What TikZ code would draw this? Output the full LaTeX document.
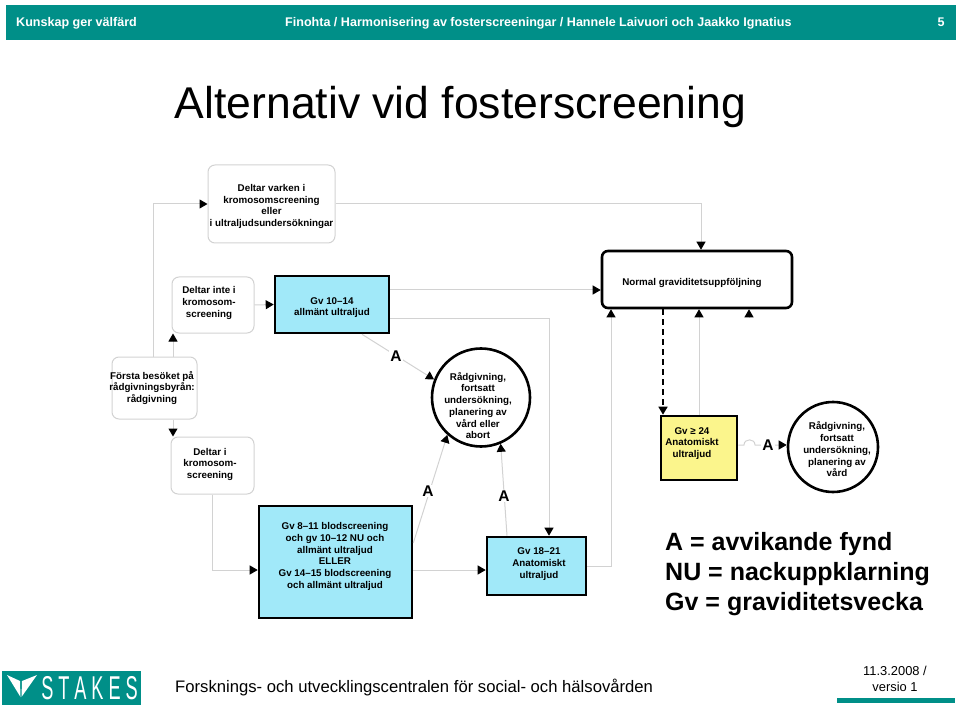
\documentclass[tikz,border=0pt]{standalone}
\usepackage{fontspec}
\usepackage{graphicx}
\setmainfont{Liberation Sans}
\usetikzlibrary{arrows.meta}
\definecolor{teal1}{HTML}{008F88}
\definecolor{blue1}{HTML}{A1E9F9}
\definecolor{yellow1}{HTML}{FBF58C}
\definecolor{line1}{HTML}{D2D2D2}
\newcommand{\Off}[3]{\raisebox{\dimexpr-4.1pt-(#2pt)\relax}[0pt][0pt]{\makebox[0pt][l]{\kern#1pt\makebox[0pt]{\begin{tabular}{@{}c@{}}#3\end{tabular}}}}}
\begin{document}
\begin{tikzpicture}
            [x=1pt,y=-1pt,
            Txt/.style={font=\fontsize{9.8}{11.75}\selectfont\bfseries,inner sep=0pt},
            Soft/.style={Txt,rectangle,draw=line1,line width=1pt,rounded corners=7pt},
            Hard/.style={Txt,rectangle,draw=black,line width=2.6pt},
            Round/.style={Txt,circle,draw=black,line width=2.6pt},
            Link/.style={draw=line1,line width=1pt,-{Triangle[length=8pt,width=9pt,black]}},
            Mark/.style={font=\fontsize{15.5}{18}\selectfont\bfseries,fill=white,inner sep=1pt},
            Legend/.style={anchor=base west,font=\fontsize{25}{30}\selectfont\bfseries,inner sep=0pt},
            Head/.style={font=\fontsize{12.55}{14}\selectfont\bfseries,text=white,inner sep=0pt}];
            \useasboundingbox (0,0) rectangle (960,708);
            \node[fill=teal1,minimum width=950pt,minimum height=35pt,inner sep=0pt] (bar) at (481,22.5){};
            \node[Head,anchor=base west] (hleft) at (16,27){Kunskap ger välfärd};
            \node[Head,anchor=base west] (hmid) at (285,27){Finohta / Harmonisering av fosterscreeningar / Hannele Laivuori och Jaakko Ignatius};
            \node[Head,anchor=base] (hnum) at (941,27){5};
            \node[font=\fontsize{44.5}{48}\selectfont,inner sep=0pt,anchor=base] (title) at (460.5,119){Alternativ vid fosterscreening};
            \node[Soft,minimum width=127pt,minimum height=78pt] (varken) at (271.5,204){\Off{0}{1}{Deltar varken i\\kromosomscreening\\eller\\i ultraljudsundersökningar}};
            \node[Soft,minimum width=82pt,minimum height=56pt] (inte) at (213,305){\Off{-4}{-3.5}{Deltar inte i\\kromosom-\\screening}};
            \node[Hard,fill=blue1,minimum width=114pt,minimum height=57pt] (gv10) at (332,304.5){\Off{0}{1.5}{Gv 10–14\\allmänt ultraljud}};
            \node[Hard,rounded corners=6pt,minimum width=190pt,minimum height=57pt] (normal) at (697,279.5){\Off{-5}{2.5}{Normal graviditetsuppföljning}};
            \node[Soft,minimum width=85pt,minimum height=62pt] (besok) at (154.5,388){\Off{-2.5}{-1}{Första besöket på\\rådgivningsbyrån:\\rådgivning}};
            \node[Soft,minimum width=83pt,minimum height=57pt] (deltar) at (212.5,465.5){\Off{-2.5}{-2.5}{Deltar i\\kromosom-\\screening}};
            \node[Round,minimum size=98pt] (rad) at (481,397.5){\Off{-3}{8}{Rådgivning,\\fortsatt\\undersökning,\\planering av\\vård eller\\abort}};
            \node[Hard,fill=blue1,minimum width=153pt,minimum height=112pt] (gv8) at (335.5,562){\Off{-0.5}{-7}{Gv 8–11 blodscreening\\och gv 10–12 NU och\\allmänt ultraljud\\ELLER\\Gv 14–15 blodscreening\\och allmänt ultraljud}};
            \node[Hard,fill=blue1,minimum width=99pt,minimum height=58pt] (gv18) at (536.5,566){\Off{2.5}{-3.5}{Gv 18–21\\Anatomiskt\\ultraljud}};
            \node[Hard,fill=yellow1,minimum width=76pt,minimum height=64pt] (gv24) at (699,448){\Off{-7}{-6}{Gv ≥ 24\\Anatomiskt\\ultraljud}};
            \node[Round,minimum size=90pt] (rad2) at (833,447){\Off{4}{2.5}{Rådgivning,\\fortsatt\\undersökning,\\planering av\\vård}};
            \coordinate (xa) at (153,0);
            \coordinate (xb) at (173,0);
            \coordinate (xc) at (701,0);
            \coordinate (xd) at (549,0);
            \coordinate (xe) at (611,0);
            \coordinate (xf) at (663,0);
            \coordinate (xg) at (699,0);
            \coordinate (xh) at (362,0);
            \coordinate (xi) at (507,0);
            \coordinate (ya) at (0,290);
            \coordinate (yb) at (0,318);
            \coordinate (yc) at (0,543);
            \coordinate (yd) at (0,570);
            \coordinate (ye) at (0,445);
            \coordinate (stub) at (749,317);
            \coordinate (hopa) at (744,445);
            \coordinate (hopb) at (755,445);
            \draw[Link] (besok.north -| xa) |- (varken.west);
            \draw[Link] (besok.north -| xb) -- (inte.south -| xb);
            \draw[Link] (besok.south -| xb) -- (deltar.north -| xb);
            \draw[Link] (varken.east) -| (normal.north -| xc);
            \draw[Link] (inte.east) -- (gv10.west);
            \draw[Link] (gv10.east |- ya) -- (normal.west |- ya);
            \draw[Link] (gv10.east |- yb) -| (gv18.north -| xd);
            \draw[Link] (gv10.south -| xh) -- (rad.159);
            \draw[Link] (deltar.south) |- (gv8.west |- yd);
            \draw[Link] (gv8.east |- yc) -- (rad.228);
            \draw[Link] (gv8.east |- yd) -- (gv18.west |- yd);
            \draw[Link] (gv18.north -| xi) -- (rad.293);
            \draw[Link] (gv18.east) -| (normal.south -| xe);
            \draw[Link] (gv24.north -| xg) -- (normal.south -| xg);
            \draw[Link,draw=black,line width=1.6pt,dash pattern=on 6pt off 4pt] (normal.south -| xf) -- (gv24.north -| xf);
            \draw[Link] (stub) -- (normal.south -| stub);
            \draw[Link] (gv24.east |- ye) -- (hopa) to[out=90,in=90,looseness=1.6] (hopb) -- (rad2.west |- ye);
            \node[Mark] (a1) at (396,356){A};
            \node[Mark] (a2) at (428,491){A};
            \node[Mark] (a3) at (504,496){A};
            \node[Mark] (a4) at (768,445){A};
            \node[Legend] (l1) at (665,550){A = avvikande fynd};
            \node[Legend] (l2) at (665,580){NU = nackuppklarning};
            \node[Legend] (l3) at (665,610){Gv = graviditetsvecka};
            \node[fill=teal1,minimum width=139pt,minimum height=34pt,inner sep=0pt] (logo) at (71.5,688){};
            \fill[white] (7,675) -- (20,681) -- (20.5,697) -- cycle;
            \fill[white] (37,675) -- (22,681) -- (21.5,697) -- cycle;
            \node[text=white,inner sep=0pt,font=\fontsize{33}{33}\selectfont] (stakes) at (89.5,688){\scalebox{0.55}[1]{S\hspace{9pt}T\hspace{9pt}A\hspace{9pt}K\hspace{9pt}E\hspace{9pt}S}};
            \node[font=\fontsize{16.66}{20}\selectfont,inner sep=0pt,anchor=base west] (foot) at (175,692){Forsknings- och utvecklingscentralen för social- och hälsovården};
            \node[font=\fontsize{12.9}{15.3}\selectfont,inner sep=0pt,align=center,anchor=base] (date) at (895,691){11.3.2008 /\\versio 1};
            \node[fill=teal1,minimum width=118pt,minimum height=5pt,inner sep=0pt] (rule) at (896,700.5){};
        \end{tikzpicture}
\end{document}
